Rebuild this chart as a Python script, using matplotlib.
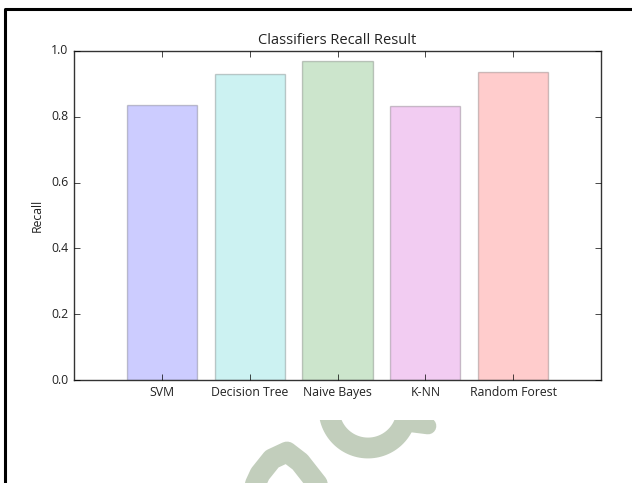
import numpy as np
import matplotlib
matplotlib.use("Agg")
import matplotlib.pyplot as plt
from matplotlib.lines import Line2D

plt.style.use('classic')
plt.rcParams['font.family'] = ['Open Sans', 'DejaVu Sans']

classifiers = ['SVM', 'Decision Tree', 'Naive Bayes', 'K-NN', 'Random Forest']
recall = [0.837, 0.929, 0.970, 0.833, 0.937]
colors = ['b', 'c', 'g', 'm', 'r']

fig = plt.figure(figsize=(6.32, 4.83), dpi=100, facecolor='white')
W, H = 632.0, 483.0

# watermark strokes behind the plot (pixel coords, y downwards)
wm = '#c2cebc'
t = np.linspace(np.radians(200), np.radians(-20), 80)
ux = 368 + 39 * np.cos(t)
uy = 409 + 39 * np.sin(t)
fig.add_artist(Line2D(ux / W, 1 - uy / H, color=wm, lw=15, solid_capstyle='round', zorder=0))
fig.add_artist(Line2D(np.array([412, 428]) / W, 1 - np.array([424, 426]) / H,
                      color=wm, lw=12, solid_capstyle='round', zorder=0))
px = np.array([248, 260, 272, 287, 300, 322, 335])
py = np.array([500, 474, 459, 452, 462, 490, 505])
fig.add_artist(Line2D(px / W, 1 - py / H, color=wm, lw=15, solid_capstyle='round',
                      solid_joinstyle='round', zorder=0))

# white panel holding the chart
fig.add_artist(plt.Rectangle((10 / W, 1 - 420 / H), 620 / W, 408 / H, facecolor='white',
                             edgecolor='none', transform=fig.transFigure, zorder=1))

# page frame
fig.add_artist(Line2D([5 / W, 5 / W, 1.0], [0.0, 1 - 9 / H, 1 - 9 / H], color='black', lw=2.2, zorder=2))

ax = fig.add_axes([74 / W, 1 - 380 / H, 527 / W, 329 / H], zorder=3)
x = np.arange(len(classifiers))
ax.bar(x, recall, width=0.8, align='center', color=colors, alpha=0.2)
ax.set_xticks(x)
ax.set_xticklabels(classifiers, fontsize=8.8, color='#222222')
ax.set_xlim(-1, 5)
ax.set_ylim(0, 1.0)
ax.set_yticks(np.arange(0, 1.01, 0.2))
ax.tick_params(axis='y', labelsize=8.8, labelcolor='#222222')
ax.set_ylabel('Recall', fontsize=8.8, color='#222222')
ax.set_title('Classifiers Recall Result', fontsize=10.5, color='#222222')
for s in ax.spines.values():
    s.set_color('#333333')

fig.savefig('out.png', dpi=100, facecolor='white')
